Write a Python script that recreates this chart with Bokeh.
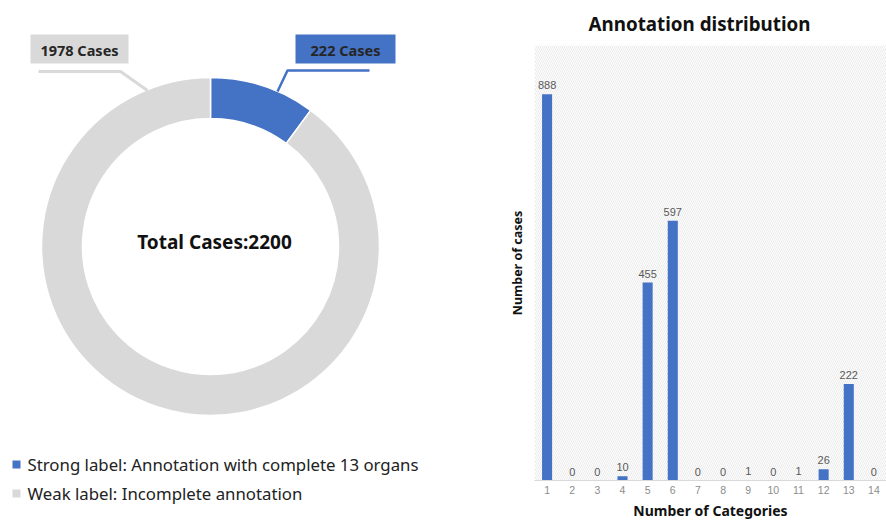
from bokeh.plotting import figure
from bokeh.layouts import row, column
from bokeh.models import Range1d, BoxAnnotation, FixedTicker, ColumnDataSource
from bokeh.core.properties import value
from bokeh.embed import file_html
from bokeh.resources import INLINE
import numpy as np

# ---------------- data ----------------
donut_labels = ["Strong label: Annotation with complete 13 organs", "Weak label: Incomplete annotation"]
donut_values = [222, 1978]
donut_colors = ["#4472C4", "#D9D9D9"]
total_label = "Total Cases:2200"

categories = list(range(1, 15))
counts = [888, 0, 0, 10, 455, 597, 0, 0, 1, 0, 1, 26, 222, 0]
bar_color = "#4472C4"
y_max = 1000
y_grid_step = 100

FONT = "Noto Sans"

# ---------------- left: donut ----------------
LW, LH = 505, 522
left = figure(width=LW, height=LH, x_range=Range1d(0, LW), y_range=Range1d(0, LH),
              output_backend="svg", toolbar_location=None, min_border=0)
left.axis.visible = False
left.grid.visible = False
left.outline_line_color = None

cx, cy = 210, LH - 246
vals = np.array(donut_values, dtype=float)
fr = vals / vals.sum()
ends = np.pi / 2 - np.concatenate([[0], np.cumsum(fr)[:-1]]) * 2 * np.pi
starts = ends - fr * 2 * np.pi
src = ColumnDataSource(dict(start=starts, end=ends, color=donut_colors))
left.annular_wedge(x=cx, y=cy, inner_radius=128, outer_radius=169, start_angle="start",
                   end_angle="end", fill_color="color", line_color="white", line_width=1.5,
                   source=src)

left.text(x=[214], y=[LH - 241], text=[total_label], text_font=value(FONT), text_font_size="19px",
          text_font_style="bold", text_color="#111111", text_align="center", text_baseline="middle")

# callout labels
gray_txt = f"{donut_values[1]} Cases"
blue_txt = f"{donut_values[0]} Cases"
left.rect(x=[79], y=[LH - 48.5], width=98, height=29, fill_color=donut_colors[1], line_color=None)
left.rect(x=[345], y=[LH - 48.5], width=100, height=29, fill_color=donut_colors[0], line_color=None)
left.text(x=[79, 345], y=[LH - 49, LH - 49], text=[gray_txt, blue_txt], text_font=value(FONT),
          text_font_size="14.5px", text_font_style="bold", text_color="#262626",
          text_align="center", text_baseline="middle")
left.line(x=[38, 120, 147], y=[LH - 71, LH - 71, LH - 90], line_color=donut_colors[1], line_width=3)
left.line(x=[369, 287, 277], y=[LH - 70, LH - 70, LH - 91], line_color=donut_colors[0], line_width=2.5)

# legend
leg_y = [LH - 464, LH - 493]
left.scatter(x=[16, 16], y=leg_y, marker="square", size=8, fill_color=donut_colors,
             line_color=None)
left.text(x=[27, 27], y=leg_y, text=donut_labels, text_font=value(FONT), text_font_size="16.8px",
          text_color="#222222", text_baseline="middle")

# ---------------- right: bar chart ----------------
RW = 381
right = figure(width=RW, height=LH, x_range=Range1d(0.5, 14.5), y_range=Range1d(0, y_max),
               output_backend="svg", toolbar_location=None,
               min_border_left=28, min_border_right=0, min_border_top=43, min_border_bottom=41,
               title="Annotation distribution")
right.title.text_font = FONT
right.title.text_font_size = "18.8px"
right.title.text_font_style = "bold"
right.title.align = "left"
right.title.offset = 54
right.title.text_color = "#111111"
right.title.text_line_height = 0.6
right.title.standoff = 17
right.outline_line_color = None
right.background_fill_color = "white"

right.add_layout(BoxAnnotation(left=0.5, right=14.5, bottom=0, top=y_max, fill_color="white",
                               fill_alpha=1, line_color=None, hatch_pattern="\\",
                               hatch_color="#e4e4e4", hatch_scale=4, hatch_weight=0.8,
                               level="underlay"))

right.vbar(x=categories, top=counts, width=0.4, fill_color=bar_color, line_color=None)
right.text(x=categories, y=counts, text=[str(c) for c in counts], text_font=value("Liberation Sans"),
           text_font_size="11px", text_color="#595959", text_align="center",
           text_baseline="bottom", y_offset=-5)

right.xgrid.visible = False
right.ygrid.ticker = FixedTicker(ticks=list(range(0, y_max + 1, y_grid_step)))
right.ygrid.grid_line_color = "#dedede"
right.ygrid.grid_line_width = 1

right.xaxis.ticker = FixedTicker(ticks=categories)
right.xaxis.axis_line_color = "#d9d9d9"
right.xaxis.major_tick_line_color = None
right.xaxis.minor_tick_line_color = None
right.xaxis.major_tick_out = 0
right.xaxis.major_tick_in = 0
right.xaxis.major_label_text_font = "Liberation Sans"
right.xaxis.major_label_text_font_size = "10.5px"
right.xaxis.major_label_text_color = "#8c8c8c"
right.xaxis.major_label_standoff = 5
right.xaxis.axis_label = "Number of Categories"
right.xaxis.axis_label_text_font = FONT
right.xaxis.axis_label_text_font_size = "14px"
right.xaxis.axis_label_text_font_style = "bold"
right.xaxis.axis_label_text_color = "#111111"
right.xaxis.axis_label_standoff = 4

right.yaxis.ticker = FixedTicker(ticks=[])
right.yaxis.axis_line_color = None
right.yaxis.major_tick_line_color = None
right.yaxis.minor_tick_line_color = None
right.yaxis.major_tick_out = 0
right.yaxis.major_tick_in = 0
right.yaxis.major_label_text_font_size = "0px"
right.yaxis.axis_label = "Number of cases"
right.yaxis.axis_label_text_font = FONT
right.yaxis.axis_label_text_font_size = "12.5px"
right.yaxis.axis_label_text_font_style = "bold"
right.yaxis.axis_label_text_color = "#111111"
right.yaxis.axis_label_standoff = 9

layout = row(column(left), column(right))
open("out.html", "w").write(file_html(layout, INLINE))
